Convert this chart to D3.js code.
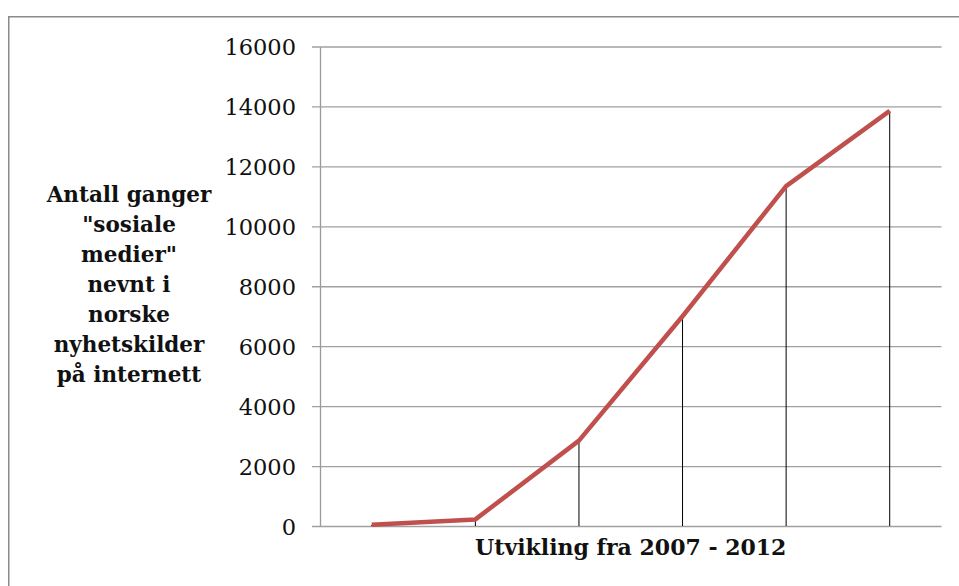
<!DOCTYPE html>
<html>
<head>
<meta charset="utf-8">
<script src="https://cdn.jsdelivr.net/npm/d3@7"></script>
<style>
  body { margin: 0; background: #fff; }
  svg { display: block; }
</style>
</head>
<body>
<div id="chart"></div>
<script>
// data
const years = ["2007", "2008", "2009", "2010", "2011", "2012"]
const mentions = [40, 220, 2850, 7000, 11340, 13850]
const yTicks = [0, 2000, 4000, 6000, 8000, 10000, 12000, 14000, 16000]
const yTitleLines = ["Antall ganger", "\"sosiale", "medier\"", "nevnt i", "norske", "nyhetskilder", "på internett"]
const xTitle = "Utvikling fra 2007 - 2012"

const width = 959
const height = 586
const padding = { top: 46.5, bottom: 60, left: 320, right: 17.5 }

const svg = d3.select("#chart")
  .append("svg")
  .attr("width", width)
  .attr("height", height)

// chart frame (runs off the right and bottom of the window)
svg.append("rect")
  .attr("x", 8.75).attr("y", 16.75)
  .attr("width", width + 20).attr("height", height + 20)
  .attr("fill", "#fff")
  .attr("stroke", "#8a8a8a")
  .attr("stroke-width", 1.5)

const xScale = d3.scaleBand()
  .domain(years)
  .range([padding.left, width - padding.right])

const yScale = d3.scaleLinear()
  .domain([0, 16000])
  .range([height - padding.bottom, padding.top])

const font = "'DejaVu Serif', serif"

// gridlines + y axis
const yAxis = d3.axisLeft(yScale)
  .tickValues(yTicks)
  .tickFormat(d3.format("d"))
  .tickSize(-(xScale.range()[1] - xScale.range()[0]))
  .tickSizeOuter(0)
  .tickPadding(24)

const gy = svg.append("g")
  .attr("transform", `translate(${padding.left},0)`)
  .call(yAxis)
gy.select(".domain").attr("stroke", "#9a9a9a").attr("stroke-width", 1.3)
gy.selectAll(".tick line")
  .attr("x1", -8)
  .attr("stroke", "#a0a0a0")
  .attr("stroke-width", 1.3)
gy.selectAll(".tick text")
  .attr("font-family", font)
  .attr("font-size", 22.5)
  .attr("fill", "#111")
  .attr("dy", "0.36em")

// drop lines
svg.append("g")
  .selectAll("line")
  .data(mentions)
  .join("line")
  .attr("x1", (d, i) => xScale(years[i]) + xScale.bandwidth() / 2)
  .attr("x2", (d, i) => xScale(years[i]) + xScale.bandwidth() / 2)
  .attr("y1", d => yScale(d))
  .attr("y2", yScale(0))
  .attr("stroke", "#000")
  .attr("stroke-width", 1)

// the series line
const line = d3.line()
  .x((d, i) => xScale(years[i]) + xScale.bandwidth() / 2)
  .y(d => yScale(d))

svg.append("path")
  .datum(mentions)
  .attr("d", line)
  .attr("fill", "none")
  .attr("stroke", "#c0504d")
  .attr("stroke-width", 4.5)
  .attr("stroke-linejoin", "round")

// axis titles
svg.append("text")
  .attr("x", 129)
  .attr("text-anchor", "middle")
  .attr("font-family", font)
  .attr("font-weight", "bold")
  .attr("font-size", 21.5)
  .attr("fill", "#111")
  .selectAll("tspan")
  .data(yTitleLines)
  .join("tspan")
  .attr("x", 129)
  .attr("y", (d, i) => 202 + i * 30)
  .text(d => d)

svg.append("text")
  .attr("x", (xScale.range()[0] + xScale.range()[1]) / 2)
  .attr("y", 555)
  .attr("text-anchor", "middle")
  .attr("font-family", font)
  .attr("font-weight", "bold")
  .attr("font-size", 22)
  .attr("fill", "#111")
  .text(xTitle)
</script>
</body>
</html>
